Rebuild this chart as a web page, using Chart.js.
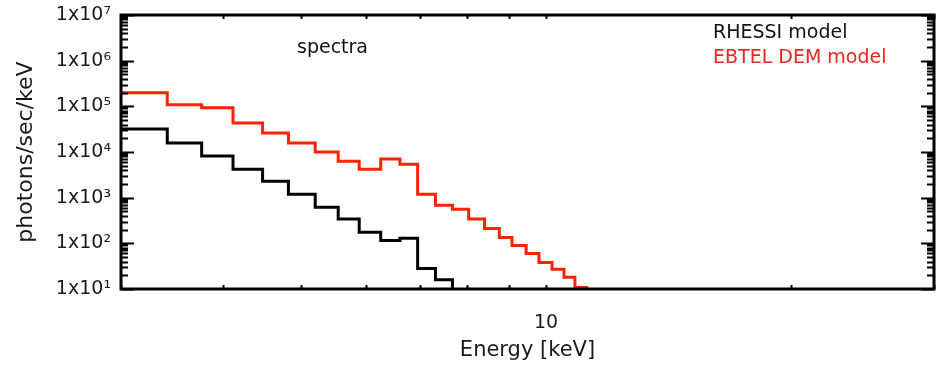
<!DOCTYPE html>
<html>
<head>
<meta charset="utf-8">
<script src="https://cdn.jsdelivr.net/npm/chart.js@4.4.1/dist/chart.umd.min.js"></script>
<style>
  html, body { margin: 0; padding: 0; background: #fff; }
  #wrap { width: 936px; height: 366px; }
</style>
</head>
<body>
<div id="wrap"><canvas id="spectraChart" width="936" height="366"></canvas></div>
<script>
// energy bin edges in keV (left edge of every bin, plus the last right edge)
const energyEdges = [3.0, 3.42, 3.77, 4.12, 4.48, 4.82, 5.2, 5.55, 5.89, 6.26, 6.61, 6.95,
    7.31, 7.67, 8.03, 8.4, 8.76, 9.08, 9.45, 9.8, 10.17, 10.52, 10.85, 11.22];

// photons/sec/keV per bin
const rhessiCounts = [3.2e4, 1.58e4, 8.2e3, 4.2e3, 2.3e3, 1.19e3, 620, 340, 175, 116, 129, 28, 16];
const ebtelCounts = [1.98e5, 1.08e5, 9.3e4, 4.3e4, 2.6e4, 1.58e4, 1.0e4, 6.3e3, 4.2e3, 7.0e3, 5.4e3,
    1.19e3, 680, 560, 340, 210, 135, 90, 60, 38, 27, 18, 10.8];

// below the plotted floor, makes the last step fall onto the axis
const belowFloor = 1;

const seriesNames = ['RHESSI model', 'EBTEL DEM model'];
const seriesColors = ['#000000', '#ff2200'];
const legendColors = ['#111111', '#e8281c'];

const yTickValues = [1e1, 1e2, 1e3, 1e4, 1e5, 1e6, 1e7];
const yTickLabels = ['1x10¹', '1x10²', '1x10³', '1x10⁴', '1x10⁵', '1x10⁶', '1x10⁷'];
const xTickValues = [10];
const xTickLabels = ['10'];

// turn bin values into step points (left edges), closing with a drop
function stepPoints(values) {
    const pts = values.map((v, i) => ({ x: energyEdges[i], y: v }));
    pts.push({ x: energyEdges[values.length], y: belowFloor });
    return pts;
}

// decade + 2..9 minor values between min and max
function logTickValues(min, max) {
    const out = [];
    for (let e = Math.floor(Math.log10(min)); e <= Math.ceil(Math.log10(max)); e++) {
        for (let k = 1; k <= 9; k++) {
            const v = k * Math.pow(10, e);
            if (v >= min * 0.9999 && v <= max * 1.0001) out.push({ v: v, major: k === 1 });
        }
    }
    return out;
}

// IDL style box with inward ticks on all four sides
const frameTicks = {
    id: 'frameTicks',
    afterDatasetsDraw(chart) {
        const { ctx, chartArea: a, scales: { x, y } } = chart;
        ctx.save();
        ctx.strokeStyle = '#000';
        ctx.lineWidth = 2;
        ctx.beginPath();
        logTickValues(y.min, y.max).forEach(t => {
            const py = Math.round(y.getPixelForValue(t.v)) + 0.5;
            const len = t.major ? 13 : 7;
            ctx.moveTo(a.left, py); ctx.lineTo(a.left + len, py);
            ctx.moveTo(a.right, py); ctx.lineTo(a.right - len, py);
        });
        logTickValues(x.min, x.max).forEach(t => {
            const px = Math.round(x.getPixelForValue(t.v)) + 0.5;
            ctx.moveTo(px, a.bottom); ctx.lineTo(px, a.bottom - 4);
            ctx.moveTo(px, a.top); ctx.lineTo(px, a.top + 4);
        });
        ctx.stroke();
        ctx.lineWidth = 3;
        ctx.strokeRect(a.left, a.top, a.right - a.left, a.bottom - a.top);
        ctx.restore();
    }
};

// plot label and the coloured legend text
const plotTexts = {
    id: 'plotTexts',
    afterDraw(chart) {
        const { ctx, chartArea: a } = chart;
        ctx.save();
        ctx.font = '19px "DejaVu Sans", sans-serif';
        ctx.textBaseline = 'middle';
        ctx.textAlign = 'left';
        ctx.fillStyle = '#111';
        ctx.fillText('spectra', a.left + 176, a.top + 33);
        seriesNames.forEach((name, i) => {
            ctx.fillStyle = legendColors[i];
            ctx.fillText(name, a.left + 592, a.top + 18 + i * 25);
        });
        ctx.restore();
    }
};

Chart.defaults.font.family = '"DejaVu Sans", sans-serif';
Chart.defaults.color = '#1a1a1a';

const ctx = document.getElementById('spectraChart').getContext('2d');
const spectraChart = new Chart(ctx, {
    type: 'line',
    data: {
        datasets: [
            {
                label: seriesNames[0],
                data: stepPoints(rhessiCounts),
                borderColor: seriesColors[0],
                borderWidth: 3,
                stepped: 'before',
                pointRadius: 0,
                fill: false
            },
            {
                label: seriesNames[1],
                data: stepPoints(ebtelCounts),
                borderColor: seriesColors[1],
                borderWidth: 3,
                stepped: 'before',
                pointRadius: 0,
                fill: false
            }
        ]
    },
    options: {
        responsive: false,
        animation: false,
        layout: { padding: { top: 15, right: 2, left: 0, bottom: 0 } },
        plugins: {
            legend: { display: false },
            tooltip: { enabled: false }
        },
        scales: {
            x: {
                type: 'logarithmic',
                min: 3,
                max: 30,
                grid: { display: false, drawTicks: false },
                border: { display: false },
                afterBuildTicks: s => { s.ticks = xTickValues.map(v => ({ value: v })); },
                afterFit: s => { s.height = 77; s.paddingLeft = 0; s.paddingRight = 0; },
                ticks: {
                    autoSkip: false,
                    maxRotation: 0,
                    padding: 23,
                    font: { size: 19 },
                    callback: (v, i) => xTickLabels[i]
                },
                title: {
                    display: true,
                    text: 'Energy [keV]',
                    font: { size: 21 },
                    padding: { top: 0, bottom: 3 }
                }
            },
            y: {
                type: 'logarithmic',
                min: 10,
                max: 1e7,
                grid: { display: false, drawTicks: false },
                border: { display: false },
                afterBuildTicks: s => { s.ticks = yTickValues.map(v => ({ value: v })); },
                afterFit: s => { s.width = 121; s.paddingTop = 0; s.paddingBottom = 0; },
                ticks: {
                    autoSkip: false,
                    padding: 10,
                    font: { size: 19 },
                    callback: (v, i) => yTickLabels[i]
                },
                title: {
                    display: true,
                    text: 'photons/sec/keV',
                    font: { size: 22 },
                    padding: { top: 13, bottom: 0 }
                }
            }
        }
    },
    plugins: [frameTicks, plotTexts]
});
</script>
</body>
</html>
